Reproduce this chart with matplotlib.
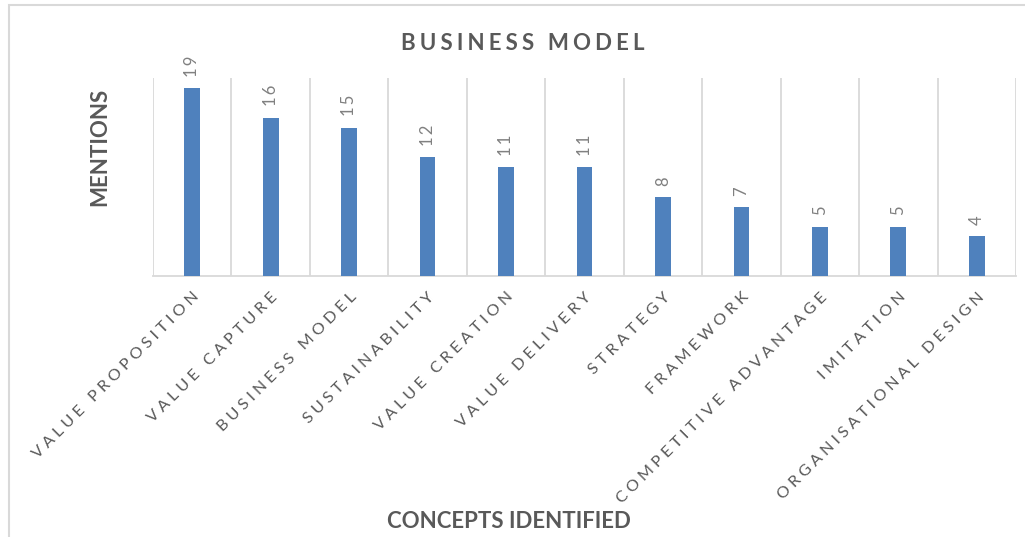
import matplotlib
matplotlib.use("Agg")
import matplotlib.pyplot as plt
from matplotlib.patches import Rectangle

categories = [
    "VALUE PROPOSITION", "VALUE CAPTURE", "BUSINESS MODEL", "SUSTAINABILITY",
    "VALUE CREATION", "VALUE DELIVERY", "STRATEGY", "FRAMEWORK",
    "COMPETITIVE ADVANTAGE", "IMITATION", "ORGANISATIONAL DESIGN",
]
mentions = [19, 16, 15, 12, 11, 11, 8, 7, 5, 5, 4]

title = "BUSINESS MODEL"
y_title = "MENTIONS"
x_title = "CONCEPTS IDENTIFIED"

BAR = "#4F81BD"
GRID = "#D9D9D9"
TEXT = "#595959"
VALUE = "#808080"

plt.rcParams["font.family"] = ["Lato", "DejaVu Sans"]


def spaced(s, gap="\u2009"):
    """Insert thin spaces between letters to widen the tracking."""
    return gap.join(s)


W, H = 1025, 537
fig = plt.figure(figsize=(W / 100, H / 100), dpi=100)
fig.patch.set_facecolor("white")

# outer chart frame
fig.patches.append(Rectangle((9 / W, -0.1), 1.2, 1.1 - 5 / H, transform=fig.transFigure,
                             fill=False, edgecolor=GRID, linewidth=1.5))

ax = fig.add_axes([153 / W, (H - 276) / H, 863 / W, 198 / H])
n = len(categories)
x = list(range(n))
ax.bar(x, mentions, width=0.2, color=BAR, zorder=3)
ax.set_xlim(-0.5, n - 0.5)
ax.set_ylim(0, 20)

# vertical separators between categories
for b in [i - 0.5 for i in range(n + 1)]:
    ax.axvline(b, color=GRID, linewidth=1.3, zorder=1)

for s in ["top", "right", "left"]:
    ax.spines[s].set_visible(False)
ax.spines["bottom"].set_color(GRID)
ax.spines["bottom"].set_linewidth(1.3)
ax.set_yticks([])
ax.set_xticks(x)
ax.set_xticklabels([spaced(c, "\u2009\u2009") for c in categories], rotation=45, ha="right",
                   rotation_mode="anchor", fontsize=11.7, color=TEXT)
ax.tick_params(axis="x", length=0, pad=10)

for xi, v in zip(x, mentions):
    ax.annotate(spaced(str(v)), (xi, v), xytext=(0, 8), textcoords="offset points",
                rotation=90, ha="center", va="bottom", fontsize=12, color=VALUE)

fig.text(523 / W, 1 - 43 / H, spaced(title, "\u2009\u200a"), ha="center", va="center",
         fontsize=16, color=TEXT, fontweight="bold")
fig.text(100 / W, 1 - 147 / H, y_title, rotation=90, ha="center", va="center",
         fontsize=16, color=TEXT, fontweight="bold")
fig.text(509 / W, 1 - 521 / H, x_title, ha="center", va="center",
         fontsize=16, color=TEXT, fontweight="bold")

fig.savefig("out.png", dpi=100, facecolor="white")
